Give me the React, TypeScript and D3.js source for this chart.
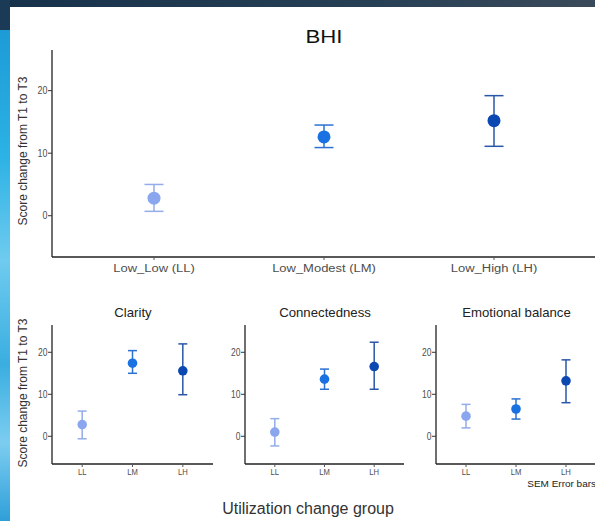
import React from "react";
import * as d3 from "d3";

const groups = ["LL", "LM", "LH"];
const mainLabels = ["Low_Low (LL)", "Low_Modest (LM)", "Low_High (LH)"];
const colors = ["#8aa6ee", "#1a72e2", "#0c48b2"];
const barColors = ["#93acea", "#2b70d2", "#2a56a8"];
const yTicks = [0, 10, 20];

const bhiMean = [2.8, 12.6, 15.2];
const bhiLow = [0.7, 10.9, 11.1];
const bhiHigh = [5.0, 14.5, 19.2];

const panelTitles = ["Clarity", "Connectedness", "Emotional balance"];
const panelMean = [
  [2.8, 17.4, 15.6],
  [1.0, 13.6, 16.6],
  [4.8, 6.5, 13.2],
];
const panelLow = [
  [-0.6, 15.0, 9.9],
  [-2.3, 11.2, 11.2],
  [2.0, 4.1, 8.0],
];
const panelHigh = [
  [6.0, 20.4, 22.0],
  [4.2, 16.0, 22.4],
  [7.6, 8.9, 18.2],
];

const FONT = "'Liberation Sans', Arial, Helvetica, sans-serif";
const YDOMAIN: [number, number] = [-6.6, 26.5];

type TProps = {
  x: number;
  y: number;
  sx?: number;
  size: number;
  anchor?: "start" | "middle" | "end";
  fill?: string;
  dy?: string;
  children: React.ReactNode;
};

function T({ x, y, sx = 1, size, anchor = "middle", fill = "#333", dy = "0", children }: TProps) {
  return (
    <text
      transform={`translate(${x},${y}) scale(${sx},1)`}
      dy={dy}
      textAnchor={anchor}
      fontSize={size}
      fill={fill}
      fontFamily={FONT}
    >
      {children}
    </text>
  );
}

type PanelProps = {
  x0: number;
  x1: number;
  y0: number;
  y1: number;
  labels: string[];
  mean: number[];
  low: number[];
  high: number[];
  r: number;
  cap: number;
  yTickFont: number;
  xTickFont: number;
  xTickSx: number;
  labelDy: number;
};

function Panel({ x0, x1, y0, y1, labels, mean, low, high, r, cap, yTickFont, xTickFont, xTickSx, labelDy }: PanelProps) {
  const x = d3.scalePoint<string>().domain(groups).range([x0, x1]).padding(0.6);
  const y = d3.scaleLinear().domain(YDOMAIN).range([y1, y0]);
  return (
    <g>
      <line x1={x0} x2={x0} y1={y0} y2={y1} stroke="#222" strokeWidth={1.3} />
      <line x1={x0} x2={x1} y1={y1} y2={y1} stroke="#222" strokeWidth={1.3} />
      {yTicks.map((t) => (
        <g key={t}>
          <line x1={x0 - 4} x2={x0} y1={y(t)} y2={y(t)} stroke="#333" strokeWidth={1} />
          <T x={x0 - 4.5} y={y(t)} dy="0.35em" anchor="end" size={yTickFont} sx={0.85} fill="#4d4d4d">
            {t}
          </T>
        </g>
      ))}
      {groups.map((g, i) => (
        <g key={g}>
          <line x1={x(g)!} x2={x(g)!} y1={y1} y2={y1 + 3} stroke="#555" strokeWidth={1} />
          <T x={x(g)!} y={y1 + labelDy} dy="0.35em" size={xTickFont} sx={xTickSx} fill="#4d4d4d">
            {labels[i]}
          </T>
        </g>
      ))}
      {groups.map((g, i) => {
        const cx = x(g)!;
        return (
          <g key={g}>
            <line x1={cx} x2={cx} y1={y(low[i])} y2={y(high[i])} stroke={barColors[i]} strokeWidth={1.5} />
            <line x1={cx - cap} x2={cx + cap} y1={y(high[i])} y2={y(high[i])} stroke={barColors[i]} strokeWidth={1.5} />
            <line x1={cx - cap} x2={cx + cap} y1={y(low[i])} y2={y(low[i])} stroke={barColors[i]} strokeWidth={1.5} />
            <circle cx={cx} cy={y(mean[i])} r={r} fill={colors[i]} />
          </g>
        );
      })}
    </g>
  );
}

export default function App() {
  const W = 595;
  const H = 521;
  const panels = [
    [52, 213],
    [245, 404],
    [436, 596],
  ];
  return (
    <svg width={W} height={H} style={{ position: "fixed", left: 0, top: 0 }}>
      <defs>
        <linearGradient id="topBand" x1="0" x2="1" y1="0" y2="0">
          <stop offset="0" stopColor="#16324a" />
          <stop offset="0.6" stopColor="#263f55" />
          <stop offset="1" stopColor="#3a4a5a" />
        </linearGradient>
        <linearGradient id="leftBand" x1="0" x2="0" y1="0" y2="1">
          <stop offset="0" stopColor="#1b3a55" />
          <stop offset="0.06" stopColor="#1d9bd6" />
          <stop offset="0.3" stopColor="#2cb2e4" />
          <stop offset="0.5" stopColor="#6fcbef" />
          <stop offset="0.7" stopColor="#3aaee0" />
          <stop offset="0.85" stopColor="#7ccdf0" />
          <stop offset="1" stopColor="#2f9fd8" />
        </linearGradient>
      </defs>
      <rect x={0} y={0} width={W} height={H} fill="url(#leftBand)" />
      <rect x={0} y={0} width={W} height={7} fill="url(#topBand)" />
      <rect x={0} y={0} width={10} height={30} fill="#1b3a55" />
      <rect x={10} y={7} width={W - 10} height={H - 7} fill="#ffffff" />

      <T x={324} y={43} size={18.5} sx={1.2} fill="#111">
        BHI
      </T>
      <text
        transform={`translate(27,151) rotate(-90)`}
        textAnchor="middle"
        fontSize={12}
        fill="#333"
        fontFamily={FONT}
      >
        Score change from T1 to T3
      </text>
      <Panel
        x0={52}
        x1={596}
        y0={50}
        y1={257}
        labels={mainLabels}
        mean={bhiMean}
        low={bhiLow}
        high={bhiHigh}
        r={6.5}
        cap={9.5}
        yTickFont={10.5}
        xTickFont={11}
        xTickSx={1.18}
        labelDy={11}
      />

      <text
        transform={`translate(27,393) rotate(-90)`}
        textAnchor="middle"
        fontSize={12}
        fill="#333"
        fontFamily={FONT}
      >
        Score change from T1 to T3
      </text>
      {panels.map((p, k) => (
        <g key={k}>
          <T x={(p[0] + p[1]) / 2 + 0.5} y={313} dy="0.35em" size={12} sx={1.1} fill="#222">
            {panelTitles[k]}
          </T>
          <Panel
            x0={p[0]}
            x1={p[1]}
            y0={325}
            y1={464}
            labels={groups}
            mean={panelMean[k]}
            low={panelLow[k]}
            high={panelHigh[k]}
            r={4.8}
            cap={4.5}
            yTickFont={10}
            xTickFont={9}
            xTickSx={0.85}
            labelDy={8}
          />
        </g>
      ))}
      <T x={596} y={484} dy="0.35em" anchor="end" size={9.5} sx={1.05} fill="#222">
        SEM Error bars
      </T>
      <T x={308} y={514} size={16} fill="#333">
        Utilization change group
      </T>
    </svg>
  );
}
